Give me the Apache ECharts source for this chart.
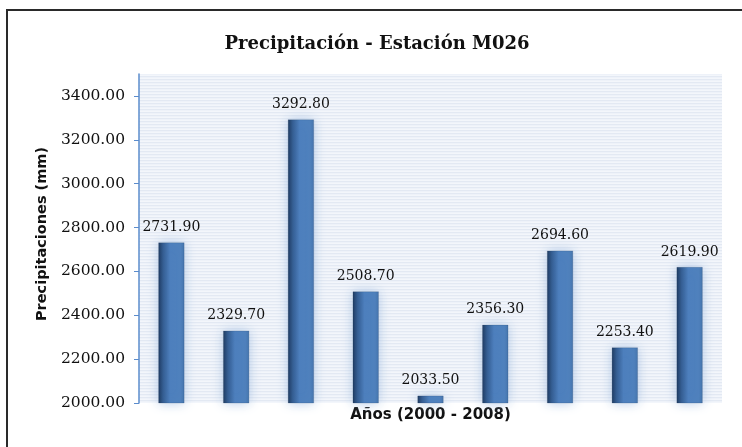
<!DOCTYPE html>
<html>
<head>
<meta charset="utf-8">
<style>
  html, body { margin: 0; padding: 0; background: #ffffff; }
  #chart { width: 742px; height: 447px; }
</style>
<script src="https://cdn.jsdelivr.net/npm/echarts@6/dist/echarts.min.js"></script>
</head>
<body>
<div id="chart"></div>
<script>
// Annual precipitation at station M026, 2000–2008 (mm)
const years = ['2000', '2001', '2002', '2003', '2004', '2005', '2006', '2007', '2008'];
const precipitation = [2731.90, 2329.70, 3292.80, 2508.70, 2033.50, 2356.30, 2694.60, 2253.40, 2619.90];
const yTicks = [2000, 2200, 2400, 2600, 2800, 3000, 3200, 3400];

// Fine horizontal stripes for the plot background
function stripePattern() {
  const c = document.createElement('canvas');
  c.width = 4; c.height = 3;
  const g = c.getContext('2d');
  g.fillStyle = '#f3f6fb'; g.fillRect(0, 0, 4, 3);
  g.fillStyle = '#e3e9f3'; g.fillRect(0, 1, 4, 1.3);
  return { image: c, repeat: 'repeat' };
}

const chart = echarts.init(document.getElementById('chart'), null, { renderer: 'canvas' });

const serif = '"DejaVu Serif", serif';
const sans = '"DejaVu Sans", sans-serif';

chart.setOption({
  animation: false,
  backgroundColor: '#ffffff',
  title: {
    text: 'Precipitación - Estación M026',
    left: 372, top: 30, textAlign: 'center',
    textStyle: { fontFamily: serif, fontWeight: 'bold', fontSize: 18, color: '#111' }
  },
  graphic: [{
    type: 'polyline',
    shape: { points: [[7, 460], [7, 10], [760, 10]] },
    style: { stroke: '#2a2a2a', lineWidth: 2, fill: null },
    z: 10
  }],
  grid: {
    left: 139, right: 20, top: 74, bottom: 44,
    show: true, borderWidth: 0,
    backgroundColor: stripePattern()
  },
  xAxis: {
    type: 'category',
    data: years,
    name: 'Años (2000 - 2008)',
    nameLocation: 'middle',
    nameGap: 5,
    nameTextStyle: { fontFamily: sans, fontWeight: 'bold', fontSize: 15, color: '#111' },
    axisLine: { show: false },
    axisTick: { show: false },
    axisLabel: { show: false }
  },
  yAxis: {
    type: 'value',
    min: 2000, max: 3500, interval: 200,
    name: 'Precipitaciones (mm)',
    nameLocation: 'middle',
    nameGap: 84,
    nameTextStyle: { fontFamily: sans, fontWeight: 'bold', fontSize: 14.5, color: '#111', padding: [0, 0, 0, 9] },
    axisLine: { show: true, lineStyle: { color: '#5b8ccc', width: 1.5 } },
    axisTick: { show: true, length: 5, inside: false, customValues: yTicks, lineStyle: { color: '#5b8ccc' } },
    axisLabel: {
      customValues: yTicks,
      margin: 14,
      fontFamily: serif, fontSize: 15.5, color: '#111',
      formatter: v => v.toFixed(2)
    },
    splitLine: { show: false }
  },
  series: [{
    type: 'bar',
    data: precipitation,
    barWidth: 26,
    itemStyle: {
      color: new echarts.graphic.LinearGradient(0, 0, 1, 0, [
        { offset: 0, color: '#1e3a60' },
        { offset: 0.18, color: '#345d92' },
        { offset: 0.45, color: '#4d7fbd' },
        { offset: 0.85, color: '#4f81bd' },
        { offset: 1, color: '#4574ad' }
      ]),
      borderColor: 'rgba(30,50,80,0.35)',
      borderWidth: 0.5,
      shadowBlur: 12,
      shadowColor: 'rgba(160,190,225,0.8)'
    },
    label: {
      show: true,
      position: 'top',
      distance: 8,
      fontFamily: serif, fontSize: 14, color: '#111',
      formatter: p => p.value.toFixed(2)
    }
  }]
});
</script>
</body>
</html>
